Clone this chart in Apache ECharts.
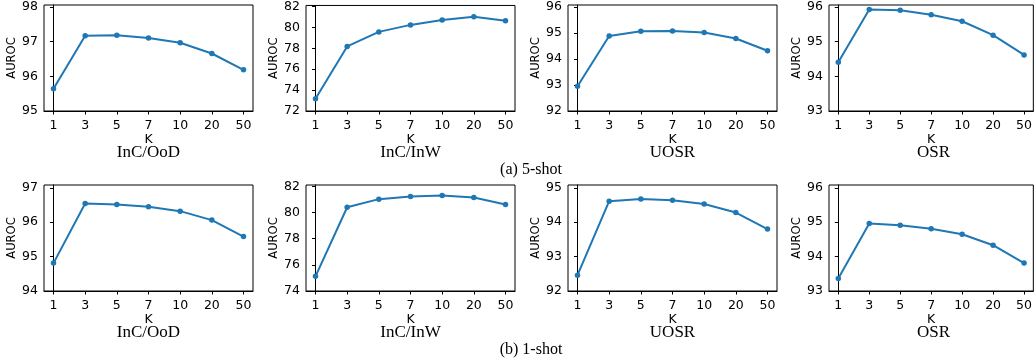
<!DOCTYPE html>
<html>
<head>
<meta charset="utf-8">
<script src="https://cdn.jsdelivr.net/npm/echarts@6/dist/echarts.min.js"></script>
<style>
  html, body { margin: 0; padding: 0; background: #fff; }
  #chart { width: 1035px; height: 358px; }
</style>
</head>
<body>
<div id="chart"></div>
<script>
// K values on the x axis (evenly spaced)
const kLabels = ['1', '3', '5', '7', '10', '20', '50']
const panelTitles = ['InC/OoD', 'InC/InW', 'UOSR', 'OSR']
const captions = ['(a) 5-shot', '(b) 1-shot']

// (a) 5-shot AUROC
const shot5IncOod = [95.64, 97.17, 97.19, 97.11, 96.97, 96.66, 96.19]
const shot5IncInw = [73.18, 78.18, 79.57, 80.24, 80.70, 81.02, 80.64]
const shot5Uosr = [92.95, 94.89, 95.07, 95.08, 95.02, 94.79, 94.32]
const shot5Osr = [94.41, 95.93, 95.91, 95.78, 95.59, 95.19, 94.62]

// (b) 1-shot AUROC
const shot1IncOod = [94.81, 96.54, 96.51, 96.45, 96.32, 96.06, 95.58]
const shot1IncInw = [75.12, 80.40, 81.02, 81.22, 81.30, 81.15, 80.61]
const shot1Uosr = [92.46, 94.61, 94.67, 94.64, 94.53, 94.28, 93.80]
const shot1Osr = [93.36, 94.96, 94.91, 94.81, 94.65, 94.33, 93.81]

// y tick labels and axis ranges per panel
const yTicks5 = [[95, 96, 97, 98], [72, 74, 76, 78, 80, 82], [92, 93, 94, 95, 96], [93, 94, 95, 96]]
const yTicks1 = [[94, 95, 96, 97], [74, 76, 78, 80, 82], [92, 93, 94, 95], [93, 94, 95, 96]]
const yRange5 = [[95, 98.06], [72, 82.1], [92, 96.08], [93, 96.06]]
const yRange1 = [[94, 97.08], [74, 82.1], [92, 95.08], [93, 96.08]]

const rows = [
  { series: [shot5IncOod, shot5IncInw, shot5Uosr, shot5Osr], ticks: yTicks5, ranges: yRange5 },
  { series: [shot1IncOod, shot1IncInw, shot1Uosr, shot1Osr], ticks: yTicks1, ranges: yRange1 },
]

const colLeft = [44, 306, 568, 829]
const rowTop = [5, 185]
const plotW = 209
const plotH = 106
const blue = '#1f77b4'
const sans = 'DejaVu Sans'
const serif = 'Liberation Serif'
const kIdx = kLabels.map((_, i) => i)

const grid = []
const xAxis = []
const yAxis = []
const series = []
const title = []

rows.forEach((row, r) => {
  const bottom = rowTop[r] + plotH
  row.series.forEach((vals, c) => {
    const i = grid.length
    grid.push({
      left: colLeft[c], top: rowTop[r], width: plotW, height: plotH,
      show: true, borderColor: '#000', borderWidth: 1, backgroundColor: 'transparent',
    })
    xAxis.push({
      type: 'value', gridIndex: i, min: -0.3, max: 6.3,
      name: 'K', nameLocation: 'middle', nameGap: 21,
      nameTextStyle: { fontFamily: sans, fontSize: 12.5, color: '#000' },
      axisLine: { show: true, lineStyle: { color: '#000', width: 1 } },
      axisTick: { show: true, length: 3.5, customValues: kIdx, lineStyle: { color: '#000' } },
      axisLabel: {
        customValues: kIdx, margin: 8, fontFamily: sans, fontSize: 12.5, color: '#000',
        formatter: (v) => kLabels[Math.round(v)] ?? '',
      },
      splitLine: { show: false },
    })
    yAxis.push({
      type: 'value', gridIndex: i, min: row.ranges[c][0], max: row.ranges[c][1],
      name: 'AUROC', nameLocation: 'middle', nameGap: 26,
      nameTextStyle: { fontFamily: sans, fontSize: 11.5, color: '#000' },
      axisLine: { show: true, lineStyle: { color: '#000', width: 1 } },
      axisTick: { show: true, length: 3.5, customValues: row.ticks[c], lineStyle: { color: '#000' } },
      axisLabel: {
        customValues: row.ticks[c], margin: 6, fontFamily: sans, fontSize: 12.5, color: '#000',
        formatter: (v) => String(v),
      },
      splitLine: { show: false },
    })
    series.push({
      type: 'line', xAxisIndex: i, yAxisIndex: i,
      data: vals.map((v, k) => [k, v]),
      symbol: 'circle', symbolSize: 5.5,
      lineStyle: { color: blue, width: 2 },
      itemStyle: { color: blue },
      animation: false,
    })
    title.push({
      text: panelTitles[c], padding: 0,
      left: colLeft[c] + plotW / 2, textAlign: 'center',
      top: bottom + 42 - 8.5,
      textStyle: { fontFamily: serif, fontSize: 17, fontWeight: 'normal', color: '#000' },
    })
  })
  title.push({
    text: captions[r], padding: 0,
    left: 531, textAlign: 'center',
    top: bottom + 58.5 - 8,
    textStyle: { fontFamily: serif, fontSize: 16, fontWeight: 'normal', color: '#000' },
  })
})

const chart = echarts.init(document.getElementById('chart'), undefined, { renderer: 'canvas' })
chart.setOption({
  animation: false,
  backgroundColor: '#fff',
  title,
  grid,
  xAxis,
  yAxis,
  series,
})
</script>
</body>
</html>
